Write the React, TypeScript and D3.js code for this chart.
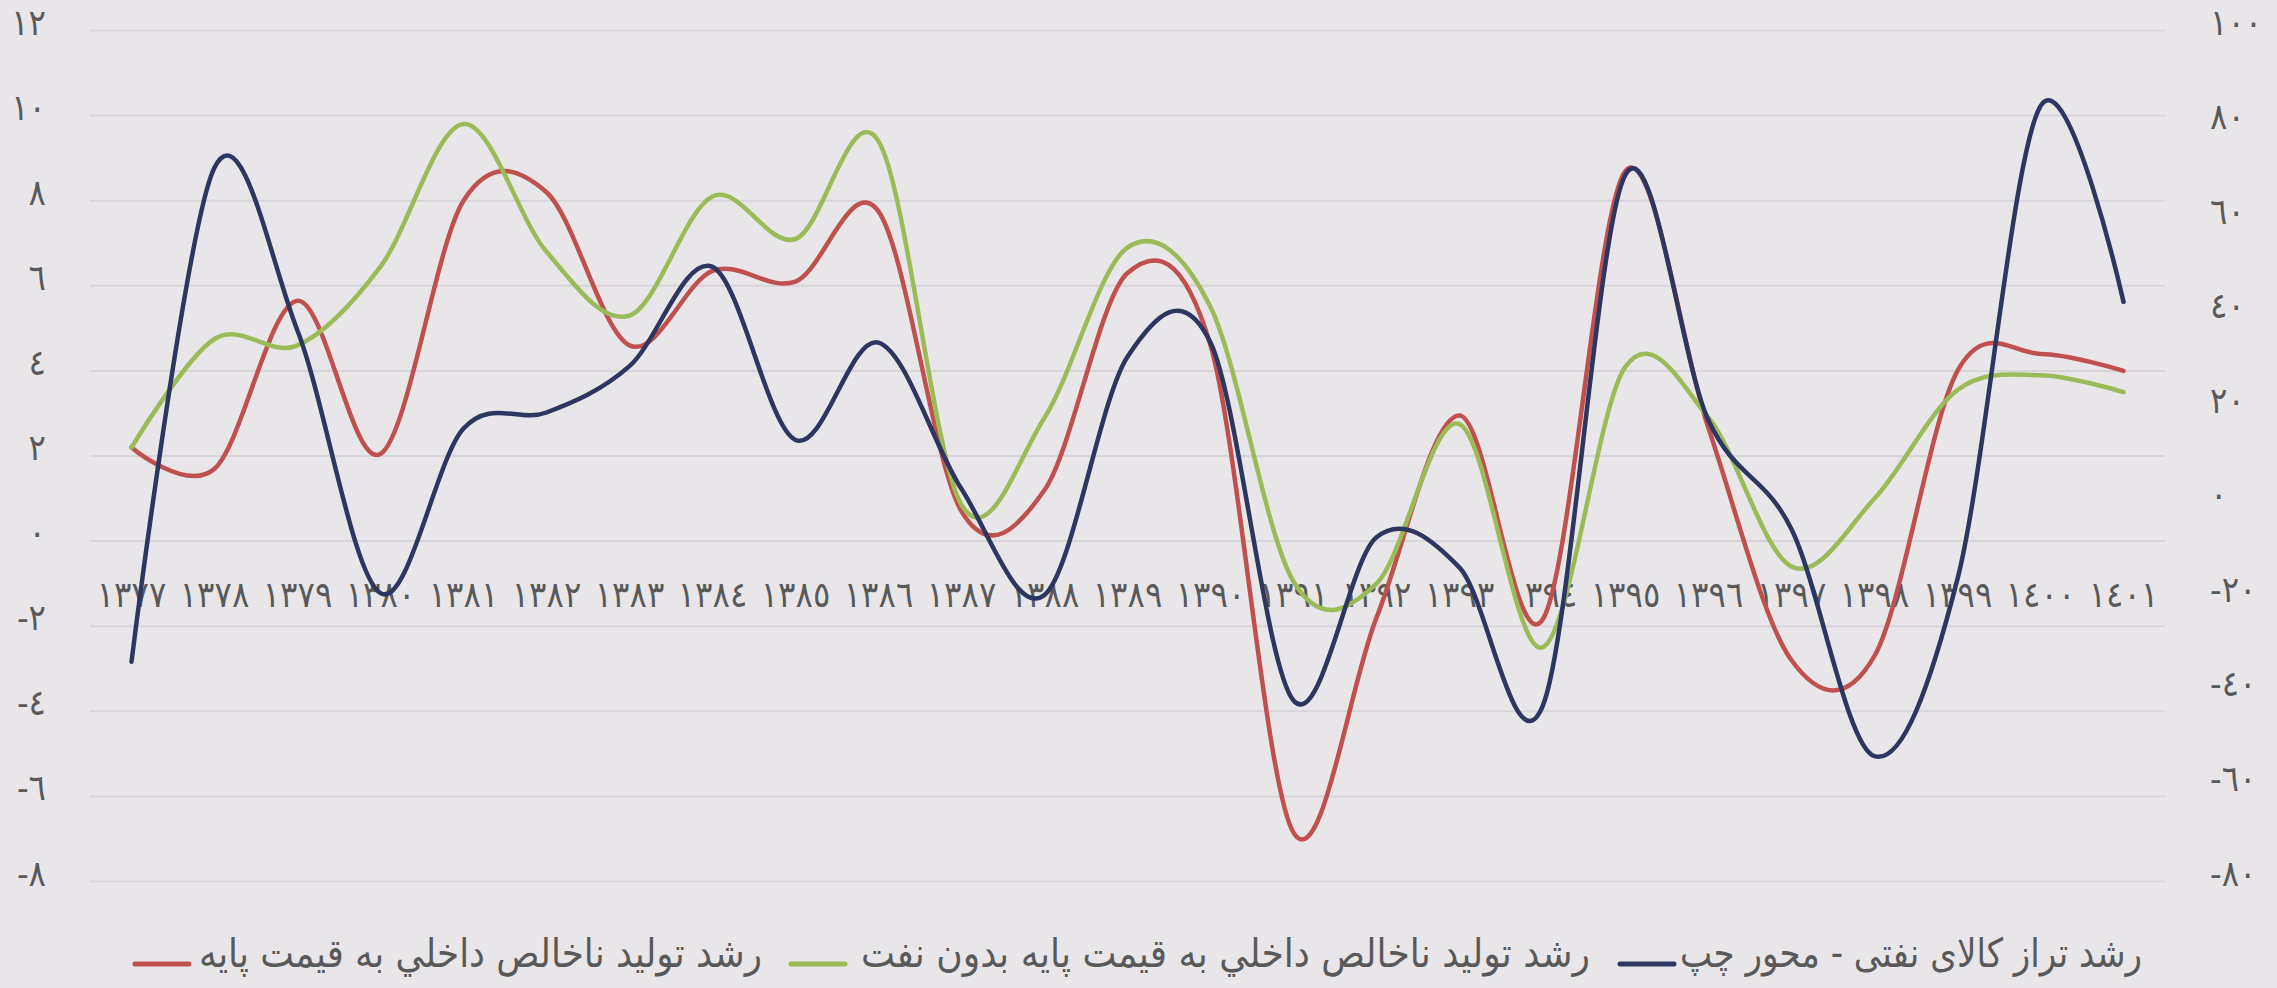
import * as d3 from "d3";

const years = [
  1377, 1378, 1379, 1380, 1381, 1382, 1383, 1384, 1385, 1386, 1387, 1388, 1389,
  1390, 1391, 1392, 1393, 1394, 1395, 1396, 1397, 1398, 1399, 1400, 1401,
];

// left axis: GDP growth at base price
const gdpGrowth = [
  2.2, 1.7, 5.65, 2.05, 8.0, 8.2, 4.6, 6.35, 6.1, 7.75, 0.7, 1.2, 6.3, 4.6,
  -6.85, -1.8, 2.95, -1.85, 8.7, 2.65, -2.8, -2.7, 4.0, 4.4, 4.0,
];

// left axis: non-oil GDP growth
const nonOilGrowth = [
  2.2, 4.75, 4.6, 6.45, 9.8, 6.8, 5.3, 8.1, 7.1, 9.4, 0.85, 2.9, 6.9, 5.5,
  -0.95, -1.0, 2.75, -2.5, 4.1, 2.9, -0.6, 1.0, 3.55, 3.9, 3.5,
];

// right axis: oil goods balance growth
const oilBalance = [
  -33.5, 71, 36.5, -19, 15.8, 19.2, 29, 50, 13.4, 34, 3, -19.4, 31, 34, -41.7,
  -7.2, -13.6, -43, 69.5, 17.5, -5.5, -53.5, -16, 84, 42.6,
];

const leftTicks = [12, 10, 8, 6, 4, 2, 0, -2, -4, -6, -8];
const rightTicks = [100, 80, 60, 40, 20, 0, -20, -40, -60, -80];

const legendItems = [
  { label: "رشد تراز کالای نفتی - محور چپ", color: "#2c3661", textStart: 1680, textEnd: 2142, swatch: 1620 },
  { label: "رشد تولید ناخالص داخلي به قيمت پايه بدون نفت", color: "#9bbb59", textStart: 861, textEnd: 1590, swatch: 791 },
  { label: "رشد تولید ناخالص داخلي به قيمت پايه", color: "#c0504d", textStart: 199, textEnd: 762, swatch: 135 },
];

const W = 2277;
const H = 988;
const FONT = "'DejaVu Sans Condensed', 'DejaVu Sans', sans-serif";
const TEXT = "#595959";
const TICK_SIZE = 36;

const arabicDigits = "٠١٢٣٤٥٦٧٨٩";
function toArabic(n: number): string {
  const s = String(Math.abs(n)).replace(/\d/g, (d) => arabicDigits[+d]);
  return n < 0 ? "-" + s : s;
}

export default function App() {
  const plotLeft = 90;
  const plotRight = 2165;
  const top = 30.5;
  const bottom = 881.5;

  const x = d3
    .scalePoint<number>()
    .domain(years)
    .range([plotLeft, plotRight])
    .padding(0.5);
  const yLeft = d3.scaleLinear().domain([-8, 12]).range([bottom, top]);
  const yRight = d3.scaleLinear().domain([-80, 100]).range([bottom, top]);

  const lineLeft = d3
    .line<number>()
    .x((_, i) => x(years[i])!)
    .y((d) => yLeft(d))
    .curve(d3.curveCatmullRom.alpha(0));
  const lineRight = d3
    .line<number>()
    .x((_, i) => x(years[i])!)
    .y((d) => yRight(d))
    .curve(d3.curveCatmullRom.alpha(0));

  const series = [
    { d: lineLeft(gdpGrowth), color: "#c0504d" },
    { d: lineLeft(nonOilGrowth), color: "#9bbb59" },
    { d: lineRight(oilBalance), color: "#2c3661" },
  ];

  return (
    <svg
      width={W}
      height={H}
      style={{ position: "absolute", left: 0, top: 0, background: "#e8e6e9" }}
      fontFamily={FONT}
    >
      <rect width={W} height={H} fill="#e8e6e9" />

      {/* grid */}
      {leftTicks.map((t) => (
        <line
          key={"g" + t}
          x1={plotLeft}
          x2={plotRight}
          y1={yLeft(t)}
          y2={yLeft(t)}
          stroke="#d7d5d9"
          strokeWidth={2}
        />
      ))}

      {/* left axis labels */}
      {leftTicks.map((t) => (
        <text
          key={"l" + t}
          x={46}
          y={yLeft(t) - 6}
          textAnchor="end"
          dominantBaseline="middle"
          fontSize={TICK_SIZE}
          fill={TEXT}
          direction="ltr"
        >
          {toArabic(t)}
        </text>
      ))}

      {/* right axis labels */}
      {rightTicks.map((t) => (
        <text
          key={"r" + t}
          x={2210}
          y={yRight(t) - 6}
          textAnchor="start"
          dominantBaseline="middle"
          fontSize={TICK_SIZE}
          fill={TEXT}
          direction="ltr"
        >
          {toArabic(t)}
        </text>
      ))}

      {/* category labels */}
      {years.map((yr) => (
        <text
          key={"x" + yr}
          x={x(yr)}
          y={597}
          textAnchor="middle"
          dominantBaseline="middle"
          fontSize={TICK_SIZE}
          fill={TEXT}
        >
          {toArabic(yr)}
        </text>
      ))}

      {/* series */}
      {series.map((s, i) => (
        <path
          key={"s" + i}
          d={s.d ?? ""}
          fill="none"
          stroke={s.color}
          strokeWidth={4.5}
          strokeLinecap="round"
          strokeLinejoin="round"
        />
      ))}

      {/* legend */}
      {legendItems.map((it) => (
        <g key={it.label}>
          <line
            x1={it.swatch}
            x2={it.swatch + 54}
            y1={964}
            y2={964}
            stroke={it.color}
            strokeWidth={5}
            strokeLinecap="round"
          />
          <text
            x={it.textEnd}
            y={956}
            textAnchor="end"
            dominantBaseline="middle"
            fontSize={40}
            fill={TEXT}
            textLength={it.textEnd - it.textStart}
            lengthAdjust="spacingAndGlyphs"
          >
            {it.label}
          </text>
        </g>
      ))}
    </svg>
  );
}
